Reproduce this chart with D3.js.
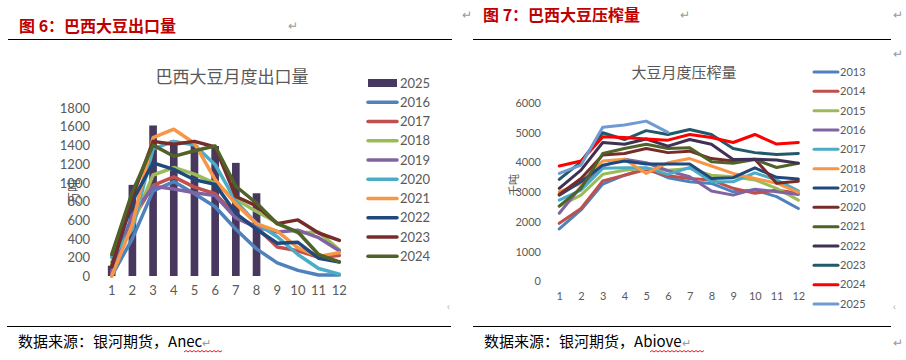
<!DOCTYPE html>
<html><head><meta charset="utf-8">
<script src="https://cdn.jsdelivr.net/npm/d3@7"></script>
<style>
html,body{margin:0;padding:0;background:#fff;}
svg text{font-family:"Noto Sans CJK SC","Noto Sans",sans-serif;}
.num{font-family:Lato,"Liberation Sans",sans-serif;}
</style></head>
<body><svg id="c" width="906" height="360"></svg>
<script>
// ---------- data: chart 1 (exports) ----------
const months = [1,2,3,4,5,6,7,8,9,10,11,12];
const exportTicks = [0,200,400,600,800,1000,1200,1400,1600,1800];
const export2025 = [110,975,1610,1450,1400,1390,1210,885];
const exportYears = ["2016","2017","2018","2019","2020","2021","2022","2023","2024"];
const export2016 = [0,400,910,1010,880,740,500,290,140,60,10,10];
const export2017 = [30,600,970,1060,950,880,650,520,310,270,200,220];
const export2018 = [150,550,1080,1160,1090,990,820,690,570,460,470,280];
const export2019 = [50,650,960,930,890,860,620,520,470,490,410,270];
const export2020 = [200,500,1360,1440,1400,1190,800,560,420,230,80,20];
const export2021 = [0,550,1480,1570,1420,1030,770,560,480,300,210,250];
const export2022 = [100,800,1210,1140,1030,980,670,500,350,360,190,150];
const export2023 = [100,850,1440,1410,1440,1380,850,750,560,600,460,380];
const export2024 = [230,900,1400,1280,1340,1390,960,780,560,470,230,150];
const exportColors = ["#4f81bd","#c0504d","#9bbb59","#8064a2","#4bacc6","#f79646","#1f497d","#772c2a","#4f6228"];

// ---------- data: chart 2 (crush) ----------
const crushTicks = [0,1000,2000,3000,4000,5000,6000];
const crushYears = ["2013","2014","2015","2016","2017","2018","2019","2020","2021","2022","2023","2024","2025"];
const crush2013 = [1750,2390,3260,3560,3790,3475,3340,3285,3000,3060,2840,2440];
const crush2014 = [1940,2440,3370,3560,3750,3540,3450,3400,3120,2950,3060,2950];
const crush2015 = [2520,2890,3590,3730,3790,3730,3790,3560,3510,3400,3120,2720];
const crush2016 = [2280,3170,3870,4100,3980,3710,3510,3030,2890,3090,3000,2910];
const crush2017 = [2720,3060,3790,3810,3810,3590,3820,3340,3340,3640,3400,3030];
const crush2018 = [3000,3290,4040,4100,3620,3980,4120,3870,3620,3450,3290,2980];
const crush2019 = [2890,3340,3900,4040,3940,3940,3940,3450,3475,3810,3490,3430];
const crush2020 = [2910,3450,4240,4290,4460,4320,4370,4120,4040,4100,3290,3360];
const crush2021 = [2520,3120,4290,4460,4600,4460,4480,4010,3960,4090,3820,3960];
const crush2022 = [3120,3730,4660,4600,4780,4540,4760,4600,4090,4100,4070,3960];
const crush2023 = [3420,4010,4990,4760,5060,4930,5100,4930,4460,4320,4260,4290];
const crush2024 = [3870,4040,4850,4830,4780,4740,4930,4830,4660,4930,4610,4660];
const crush2025 = [3620,3900,5170,5250,5380,5000];
const crushColors = ["#4f81bd","#c0504d","#9bbb59","#8064a2","#4bacc6","#f79646","#1f497d","#772c2a","#4f6228","#403152","#215968","#ff0000","#6f9bd2"];

const exportSeries = [export2016,export2017,export2018,export2019,export2020,export2021,export2022,export2023,export2024];
const crushSeries = [crush2013,crush2014,crush2015,crush2016,crush2017,crush2018,crush2019,crush2020,crush2021,crush2022,crush2023,crush2024,crush2025];

const svg = d3.select("#c");
const grey = "#595959";
const fmt = d3.format("d");

// ---------- page decorations ----------
svg.append("text").attr("x",19).attr("y",32).attr("fill","#c00000").attr("font-size",16).attr("font-weight","bold").text("图 6：巴西大豆出口量");
svg.append("text").attr("x",483).attr("y",21).attr("fill","#c00000").attr("font-size",16).attr("font-weight","bold").text("图 7：巴西大豆压榨量");
svg.append("line").attr("x1",8).attr("x2",452).attr("y1",39.5).attr("y2",39.5).attr("stroke","#000").attr("stroke-width",1.2);
svg.append("line").attr("x1",473).attr("x2",891).attr("y1",39.5).attr("y2",39.5).attr("stroke","#000").attr("stroke-width",1.2);
svg.append("line").attr("x1",7).attr("x2",451).attr("y1",326.5).attr("y2",326.5).attr("stroke","#000").attr("stroke-width",1.2);
svg.append("line").attr("x1",473).attr("x2",891).attr("y1",326.5).attr("y2",326.5).attr("stroke","#000").attr("stroke-width",1.2);
const marks = [[288,30],[462,19],[680,19],[893,19],[893,58],[893,347]];
marks.forEach(m=>svg.append("text").attr("x",m[0]).attr("y",m[1]).attr("fill","#999").attr("font-size",12).text("↵"));
[[447,310],[893,310]].forEach(m=>svg.append("text").attr("x",m[0]).attr("y",m[1]).attr("fill","#aaa").attr("font-size",10).text("‹"));
const src1 = svg.append("text").attr("x",18).attr("y",347).attr("fill","#000").attr("font-size",15);
src1.append("tspan").text("数据来源：银河期货，");
src1.append("tspan").text("Anec");
src1.append("tspan").attr("fill","#999").attr("font-size",11).text("↵");
const src2 = svg.append("text").attr("x",484).attr("y",347).attr("fill","#000").attr("font-size",15);
src2.append("tspan").text("数据来源：银河期货，");
src2.append("tspan").text("Abiove");
src2.append("tspan").attr("fill","#999").attr("font-size",11).text("↵");
function wavy(x0,x1,y){let d=`M${x0},${y}`;let up=true;for(let x=x0+2;x<=x1;x+=2){d+=`L${x},${up?y-1.5:y}`;up=!up;}return d;}
svg.append("path").attr("d",wavy(184,222,352)).attr("fill","none").attr("stroke","#e00").attr("stroke-width",0.9);
svg.append("path").attr("d",wavy(650,704,352)).attr("fill","none").attr("stroke","#e00").attr("stroke-width",0.9);

// ---------- chart 1 ----------
const g1 = svg.append("g");
const x1 = d3.scaleBand().domain(months).range([101.35,349.65]).paddingInner(0.63).paddingOuter(0.315);
const y1 = d3.scaleLinear().domain([0,1800]).range([276,107.7]);
g1.append("text").attr("x",232).attr("y",83).attr("text-anchor","middle").attr("fill",grey).attr("font-size",17).text("巴西大豆月度出口量");
g1.append("text").attr("transform","translate(78,192) rotate(-90)").attr("text-anchor","middle").attr("fill",grey).attr("font-size",13).text("万吨");
const ax1 = d3.axisLeft(y1).tickValues(exportTicks).tickFormat(fmt).tickSize(0).tickPadding(0);
const ay1 = g1.append("g").attr("transform","translate(90,0)").call(ax1);
ay1.select(".domain").remove();
ay1.selectAll("text").attr("class","num").attr("fill",grey).attr("font-size",13).attr("dy","0.35em");
const axx1 = d3.axisBottom(x1).tickSize(0).tickPadding(0);
const ax1g = g1.append("g").attr("transform","translate(0,286)").call(axx1);
ax1g.select(".domain").remove();
ax1g.selectAll("text").attr("class","num").attr("fill",grey).attr("font-size",13).attr("dy","0.71em");
g1.selectAll("rect.bar").data(export2025).join("rect").attr("class","bar")
  .attr("x",(d,i)=>x1(months[i])).attr("width",x1.bandwidth())
  .attr("y",d=>y1(d)).attr("height",d=>y1(0)-y1(d)).attr("fill","#48385f");
const line1 = d3.line().x((d,i)=>x1(months[i])+x1.bandwidth()/2).y(d=>y1(d));
exportSeries.forEach((s,k)=>{
  g1.append("path").attr("d",line1(s)).attr("fill","none").attr("stroke",exportColors[k])
    .attr("stroke-width",3.5).attr("stroke-linejoin","round").attr("stroke-linecap","round");
});
// legend 1
const leg1 = g1.append("g");
const leg1Items = [{name:"2025",color:"#48385f",bar:true}].concat(exportYears.map((y,i)=>({name:y,color:exportColors[i]})));
leg1Items.forEach((it,i)=>{
  const yy = 83 + i*19.25;
  if(it.bar){
    leg1.append("rect").attr("x",368).attr("y",yy-4).attr("width",29).attr("height",8).attr("fill",it.color);
  } else {
    leg1.append("line").attr("x1",368).attr("x2",397).attr("y1",yy).attr("y2",yy).attr("stroke",it.color).attr("stroke-width",3.5).attr("stroke-linecap","round");
  }
  leg1.append("text").attr("class","num").attr("x",400).attr("y",yy).attr("dy","0.35em").attr("fill",grey).attr("font-size",13).text(it.name);
});

// ---------- chart 2 ----------
const g2 = svg.append("g");
const x2 = d3.scalePoint().domain(months).range([548.4,809.2]).padding(0.5);
const y2 = d3.scaleLinear().domain([0,6000]).range([281,102.7]);
g2.append("text").attr("x",684).attr("y",78).attr("text-anchor","middle").attr("fill",grey).attr("font-size",15).text("大豆月度压榨量");
g2.append("text").attr("transform","translate(518,185) rotate(-90)").attr("text-anchor","middle").attr("fill",grey).attr("font-size",11).text("千吨");
const ay2 = g2.append("g").attr("transform","translate(541,0)").call(d3.axisLeft(y2).tickValues(crushTicks).tickFormat(fmt).tickSize(0).tickPadding(0));
ay2.select(".domain").remove();
ay2.selectAll("text").attr("class","num").attr("fill",grey).attr("font-size",11).attr("dy","0.35em");
const ax2g = g2.append("g").attr("transform","translate(0,292)").call(d3.axisBottom(x2).tickSize(0).tickPadding(0));
ax2g.select(".domain").remove();
ax2g.selectAll("text").attr("class","num").attr("fill",grey).attr("font-size",11).attr("dy","0.71em");
const line2 = d3.line().x((d,i)=>x2(months[i])).y(d=>y2(d));
crushSeries.forEach((s,k)=>{
  g2.append("path").attr("d",line2(s)).attr("fill","none").attr("stroke",crushColors[k])
    .attr("stroke-width",3).attr("stroke-linejoin","round").attr("stroke-linecap","round");
});
const leg2 = g2.append("g");
crushYears.forEach((y,i)=>{
  const yy = 72 + i*19.33;
  leg2.append("line").attr("x1",814).attr("x2",838).attr("y1",yy).attr("y2",yy).attr("stroke",crushColors[i]).attr("stroke-width",3).attr("stroke-linecap","round");
  leg2.append("text").attr("class","num").attr("x",840).attr("y",yy).attr("dy","0.35em").attr("fill",grey).attr("font-size",11).text(y);
});
</script></body></html>
